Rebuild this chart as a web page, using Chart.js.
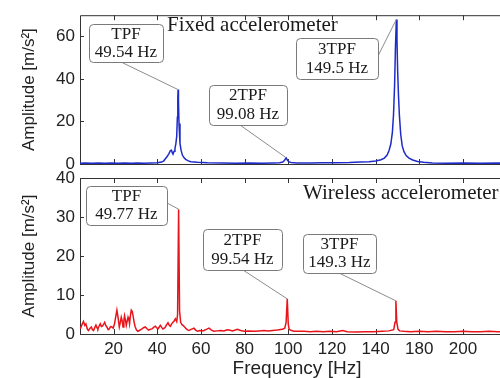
<!DOCTYPE html>
<html>
<head>
<meta charset="utf-8">
<script src="https://cdn.jsdelivr.net/npm/chart.js@4.4.0/dist/chart.umd.min.js"></script>
<style>
  html, body { margin: 0; padding: 0; background: #fff; overflow: hidden; }
  #wrap { position: relative; width: 500px; height: 378px; overflow: hidden; }
  canvas { position: absolute; left: 0; top: 0; }
</style>
</head>
<body>
<div id="wrap">
  <canvas id="fixedChart" width="514" height="378"></canvas>
  <canvas id="wirelessChart" width="514" height="378"></canvas>
</div>
<script>
// x axis (shared)
const xTickValues = [20, 40, 60, 80, 100, 120, 140, 160, 180];
const xTickLabels = ['20', '40', '60', '80', '100', '120', '140', '180', '200'];

// fixed accelerometer spectrum
const fixedFreq = [4.6, 7, 10, 13, 16, 19, 22, 25, 28, 31, 34, 37, 40, 42, 43, 43.8, 44.6, 45.4, 46, 46.5,
  46.9, 47.2, 47.7, 48.1, 48.5, 48.9, 49.2, 49.4, 49.54, 49.7, 49.95, 50.4, 50.9, 51.5, 52.2, 53, 54, 55.3,
  58.4, 63, 70, 76, 82, 88, 93, 96, 97.5, 98.3, 98.9, 99.08, 99.5, 100.2, 101.2, 104, 110, 116, 122, 128,
  133, 137, 140, 142.5, 144, 145.3, 146.2, 147, 147.7, 148.2, 148.7, 149.1, 149.5, 149.8, 150.1, 150.5,
  150.9, 151.5, 152.2, 153, 154, 155.3, 157, 159.2, 162, 166, 172, 180, 188, 196, 204];
const fixedAmp = [0.4, 0.5, 0.4, 0.5, 0.4, 0.5, 0.4, 0.5, 0.4, 0.5, 0.4, 0.5, 0.6, 0.9, 1.5, 2.6, 3.6, 5.0, 6.3, 6.5,
  5.2, 4.6, 6.0, 7.3, 9.5, 13, 22, 31, 35, 30, 19, 9.7, 6.5, 4.2, 3.0, 2.2, 1.6, 1.1,
  0.8, 0.6, 0.5, 0.4, 0.5, 0.4, 0.5, 0.6, 0.9, 1.7, 2.8, 2.9, 2.0, 1.1, 0.7, 0.5, 0.5, 0.6, 0.6, 0.7,
  0.9, 1.1, 1.4, 2.0, 2.8, 4.2, 6.5, 9.5, 15, 23, 37, 55, 68, 58, 44, 32,
  23, 14, 8.5, 5.8, 4.0, 2.8, 1.9, 1.2, 0.8, 0.5, 0.4, 0.5, 0.4, 0.5, 0.4];
const fixedYTicks = [0, 20, 40, 60];

// wireless accelerometer spectrum
const wirelessFreq = [4.7, 5.5, 6.2, 6.8, 7.3, 8, 8.5, 9.2, 9.8, 10.3, 10.8, 11.4, 11.9, 12.4, 12.8, 13.4, 13.9,
  14.4, 14.9, 15.4, 15.9, 16.4, 16.9, 17.5, 18, 18.6, 19.2, 19.8, 20.4, 21, 21.5, 22, 22.6, 23, 23.5, 23.9,
  24.3, 24.7, 25, 25.4, 25.8, 26.2, 26.6, 27, 27.3, 27.7, 28.1, 28.5, 28.9, 29.4, 29.9, 30.5, 31.1, 31.8,
  32.4, 33, 33.7, 34.5, 35.2, 36, 36.8, 37.6, 38.3, 39.1, 39.7, 40.3, 40.9, 41.4, 42, 42.6, 43.2, 43.7,
  44.3, 44.9, 45.4, 46, 46.6, 47.2, 47.8, 48.3, 48.9, 49.3, 49.77, 50.2, 50.7, 51.3, 51.8, 52.5, 53.3, 54,
  54.5, 55.5, 56.8, 57.6, 58.4, 59.5, 60.5, 61.4, 62.5, 63.7, 64.8, 66, 67.5, 69, 70.5, 72, 72.9, 74.5,
  76.7, 78.2, 79.7, 82, 84.3, 86.5, 88.9, 90.8, 92.8, 95, 97.3, 98.4, 99, 99.54, 100, 100.4, 101.5, 102.7,
  105, 107.3, 110, 113, 116, 119, 122, 125, 127, 131, 135, 139, 143, 146, 148.3, 148.9, 149.3, 149.7,
  150.3, 151, 153, 156, 160, 164, 168, 172, 176, 180, 184, 188, 192, 196, 200, 204];
const wirelessAmp = [1.3, 2.4, 3.2, 2.2, 2.6, 1.2, 0.9, 1.5, 1.8, 1.1, 0.9, 1.7, 2.3, 1.6, 1.3, 2.1, 2.6,
  1.9, 2.0, 2.5, 3.0, 2.2, 1.8, 1.1, 1.3, 1.9, 1.8, 1.5, 2.6, 4.5, 6.1, 4.4, 1.8, 2.8, 4.3, 3.4,
  1.8, 3.5, 4.7, 3.6, 2.2, 3.3, 4.3, 3.6, 2.6, 4.8, 6.1, 5.8, 4.7, 3.0, 1.8, 1.0, 0.7, 0.9,
  1.1, 1.3, 1.6, 1.8, 1.4, 1.0, 1.2, 1.3, 1.7, 2.0, 1.6, 1.3, 1.8, 2.2, 1.7, 1.3, 1.5, 1.8,
  2.4, 2.9, 2.3, 2.0, 2.6, 3.0, 3.4, 3.9, 3.2, 5, 32, 6, 3.0, 2.4, 2.2, 1.8, 1.3, 1.0,
  0.9, 1.2, 1.5, 1.0, 0.7, 0.9, 0.8, 0.9, 1.2, 1.5, 1.0, 0.7, 0.8, 0.9, 0.8, 1.1, 1.0, 0.8,
  1.2, 0.9, 0.7, 0.8, 0.7, 0.8, 0.9, 0.8, 0.9, 1.0, 1.2, 1.5, 3, 9, 2.5, 1.2, 0.9, 0.7,
  0.7, 0.7, 0.6, 0.7, 0.6, 0.7, 0.6, 0.9, 0.6, 0.5, 0.6, 0.6, 0.7, 0.8, 1.1, 3, 8.5, 3,
  1.2, 0.8, 0.7, 0.6, 0.7, 0.6, 0.7, 0.6, 0.6, 0.7, 0.6, 0.6, 0.7, 0.6, 0.6, 0.6];
const wirelessYTicks = [0, 10, 20, 30, 40];

// peak callouts
const fixedPeakNames = ['TPF', '2TPF', '3TPF'];
const fixedPeakTexts = ['49.54 Hz', '99.08 Hz', '149.5 Hz'];
const fixedPeakFreq = [49.54, 99.08, 149.5];
const fixedPeakAmp = [35, 2.9, 68];
const wirelessPeakNames = ['TPF', '2TPF', '3TPF'];
const wirelessPeakTexts = ['49.77 Hz', '99.54 Hz', '149.3 Hz'];
const wirelessPeakFreq = [49.77, 99.54, 149.3];
const wirelessPeakAmp = [32, 9, 8.5];

const SANS = '"Liberation Sans", Arial, sans-serif';
const SERIF = '"Liberation Serif", "Times New Roman", serif';

// box: x, y, w, h ; leader start: sx, sy (page pixels)
const fixedBoxes = [
  { x: 89, y: 24, w: 74, h: 38, sx: 121, sy: 62 },
  { x: 209, y: 85, w: 78, h: 40, sx: 240, sy: 125 },
  { x: 296, y: 38, w: 82, h: 41, sx: 378, sy: 56 }
];
const wirelessBoxes = [
  { x: 86, y: 186, w: 81, h: 39, sx: 167, sy: 203 },
  { x: 203, y: 229, w: 79, h: 41, sx: 243, sy: 270 },
  { x: 303, y: 234, w: 73, h: 39, sx: 339, sy: 273 }
];

function roundRect(ctx, x, y, w, h, r) {
  ctx.beginPath();
  ctx.moveTo(x + r, y);
  ctx.arcTo(x + w, y, x + w, y + h, r);
  ctx.arcTo(x + w, y + h, x, y + h, r);
  ctx.arcTo(x, y + h, x, y, r);
  ctx.arcTo(x, y, x + w, y, r);
  ctx.closePath();
}

const framePlugin = {
  id: 'frame',
  beforeDatasetsDraw(chart, args, opts) {
    const { ctx, chartArea: a, scales } = chart;
    ctx.save();
    ctx.strokeStyle = '#333';
    ctx.lineWidth = 1;
    ctx.beginPath();
    ctx.moveTo(a.right + 20, a.top + 0.5);
    ctx.lineTo(a.left + 0.5, a.top + 0.5);
    ctx.lineTo(a.left + 0.5, a.bottom + 0.5);
    ctx.lineTo(a.right + 20, a.bottom + 0.5);
    ctx.stroke();
    ctx.beginPath();
    xTickValues.forEach(v => {
      const x = Math.round(scales.x.getPixelForValue(v)) + 0.5;
      ctx.moveTo(x, a.top);
      ctx.lineTo(x, a.top + 5);
      ctx.moveTo(x, a.bottom);
      ctx.lineTo(x, a.bottom - 5);
    });
    opts.yTicks.forEach(v => {
      const y = Math.round(scales.y.getPixelForValue(v)) + 0.5;
      ctx.moveTo(a.left, y);
      ctx.lineTo(a.left + 4, y);
    });
    ctx.stroke();
    ctx.restore();
  },
  afterDatasetsDraw(chart, args, opts) {
    const { ctx, scales } = chart;
    ctx.save();
    opts.boxes.forEach((b, i) => {
      const px = scales.x.getPixelForValue(opts.peakFreq[i]);
      const py = scales.y.getPixelForValue(opts.peakAmp[i]);
      ctx.strokeStyle = '#8c8c8c';
      ctx.lineWidth = 1;
      ctx.beginPath();
      ctx.moveTo(b.sx, b.sy);
      ctx.lineTo(px, py);
      ctx.stroke();
      roundRect(ctx, b.x + 0.5, b.y + 0.5, b.w, b.h, 4);
      ctx.fillStyle = '#fff';
      ctx.fill();
      ctx.strokeStyle = '#7a7a7a';
      ctx.stroke();
      ctx.fillStyle = '#1a1a1a';
      ctx.font = '17px ' + SERIF;
      ctx.textAlign = 'center';
      ctx.textBaseline = 'middle';
      const cx = b.x + b.w / 2;
      ctx.fillText(opts.names[i], cx, b.y + b.h * 0.27);
      ctx.fillText(opts.texts[i], cx, b.y + b.h * 0.74);
    });
    ctx.font = '21px ' + SERIF;
    ctx.textAlign = 'left';
    ctx.textBaseline = 'alphabetic';
    ctx.fillStyle = '#1a1a1a';
    ctx.fillText(opts.caption, opts.captionX, opts.captionY);
    ctx.restore();
  }
};

function makeChart(id, freq, amp, color, yMax, yTicks, padTop, padBottom, showX, frameOpts) {
  const pts = freq.map((f, i) => ({ x: f, y: amp[i] }));
  return new Chart(document.getElementById(id), {
    type: 'line',
    data: { datasets: [{ data: pts, borderColor: color, borderWidth: 1.5, pointRadius: 0, tension: 0, fill: false }] },
    options: {
      responsive: false,
      animation: false,
      events: [],
      layout: { padding: { top: padTop, bottom: padBottom, left: 0, right: 0 } },
      plugins: { legend: { display: false }, tooltip: { enabled: false }, frame: frameOpts },
      scales: {
        x: {
          type: 'linear', min: 4.6, max: 203.4, display: showX,
          grid: { display: false, drawTicks: false }, border: { display: false },
          afterBuildTicks: s => { s.ticks = xTickValues.map(v => ({ value: v })); },
          afterFit: s => { s.height = showX ? 44 : 0; },
          ticks: { autoSkip: false, maxRotation: 0, padding: 5, color: '#222', font: { family: SANS, size: 17 },
            callback: (v, i) => xTickLabels[i] },
          title: { display: true, text: 'Frequency [Hz]', color: '#222', padding: 0,
            font: { family: SANS, size: 19, lineHeight: 1 } }
        },
        y: {
          min: 0, max: yMax,
          grid: { display: false, drawTicks: false }, border: { display: false },
          afterBuildTicks: s => { s.ticks = yTicks.map(v => ({ value: v })); },
          afterFit: s => { s.width = 80; },
          ticks: { padding: 5, color: '#222', font: { family: SANS, size: 17 } },
          title: { display: true, text: 'Amplitude [m/s²]', color: '#222', padding: { top: 19, bottom: 0 },
            font: { family: SANS, size: 17, lineHeight: 1.2 } }
        }
      }
    },
    plugins: [framePlugin]
  });
}

makeChart('fixedChart', fixedFreq, fixedAmp, '#1f2bc8', 70, fixedYTicks, 13, 214, false, {
  yTicks: fixedYTicks, boxes: fixedBoxes, names: fixedPeakNames, texts: fixedPeakTexts,
  peakFreq: fixedPeakFreq, peakAmp: fixedPeakAmp,
  caption: 'Fixed accelerometer', captionX: 167, captionY: 31
});
makeChart('wirelessChart', wirelessFreq, wirelessAmp, '#e8141a', 40, wirelessYTicks, 178, 0, true, {
  yTicks: wirelessYTicks, boxes: wirelessBoxes, names: wirelessPeakNames, texts: wirelessPeakTexts,
  peakFreq: wirelessPeakFreq, peakAmp: wirelessPeakAmp,
  caption: 'Wireless accelerometer', captionX: 303, captionY: 199
});
</script>
</body>
</html>
